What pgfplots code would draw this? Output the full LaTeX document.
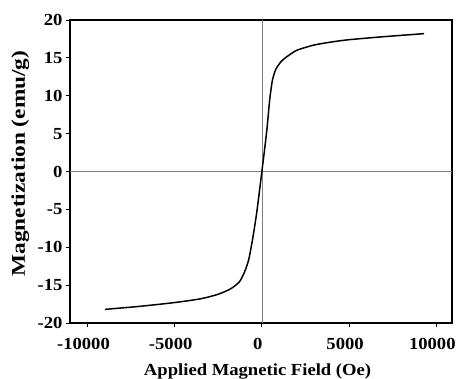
\documentclass[border=0pt]{standalone}
\usepackage{pgfplots}
\pgfplotsset{compat=1.18}
\usepackage{fontspec}
\setmainfont{Liberation Serif}
\newfontfamily\widefont[FakeStretch=1.1]{Liberation Serif}
\newfontfamily\ylabfont[FakeStretch=1.2]{Liberation Serif}
\begin{document}
\begin{tikzpicture}
\begin{axis}[
  scale only axis,
  width=382bp, height=303bp,
  xmin=-11000, xmax=10900,
  ymin=-20, ymax=20,
  xtick={-10000,-5000,0,5000,10000},
  ytick={-20,-15,...,20},
  tick align=outside,
  major tick length=4bp,
  tick style={black, line width=0.8pt},
  xtick pos=bottom, ytick pos=left,
  axis line style={black, line width=1.6pt},
  scaled x ticks=false,
  /pgf/number format/assume math mode=true,
  /pgf/number format/1000 sep={},
  ticklabel style={font=\widefont\fontsize{17}{20}\selectfont\bfseries},
  xticklabel style={yshift=-8bp, xshift=-4bp},
  xlabel={Applied Magnetic Field (Oe)},
  ylabel={Magnetization (emu/g)},
  xlabel style={font=\widefont\fontsize{17}{20}\selectfont\bfseries,
    at={(axis description cs:0.491,-0.172)}, anchor=base},
  ylabel style={font=\ylabfont\fontsize{19.5}{22}\selectfont\bfseries,
    at={(axis description cs:-0.118,0.526)}, anchor=base},
  clip=false,
]
\addplot[gray, line width=0.6pt, forget plot] coordinates {(-11000,0) (10900,0)};
\addplot[gray, line width=0.6pt, forget plot] coordinates {(0,-20) (0,20)};
\addplot[black, line width=1.5pt, smooth, tension=0.4] coordinates {
(-9000,-18.2) (-7000,-17.8) (-5000,-17.3) (-3500,-16.8) (-2500,-16.2)
(-1800,-15.5) (-1300,-14.6) (-1000,-13.3) (-750,-11.6) (-500,-8.5)
(-300,-5.5) (-150,-2.8) (0,0) (150,2.8) (300,5.8) (450,9.5) (600,12.0)
(800,13.5) (1100,14.5) (1400,15.1) (2000,16.0) (3000,16.7) (4000,17.1)
(5000,17.4) (7000,17.8) (9300,18.2)
};
\end{axis}
\pgfresetboundingbox
\path ([xshift=-70bp,yshift=-56bp]current axis.south west) rectangle ([xshift=5bp,yshift=20bp]current axis.north east);
\end{tikzpicture}
\end{document}
